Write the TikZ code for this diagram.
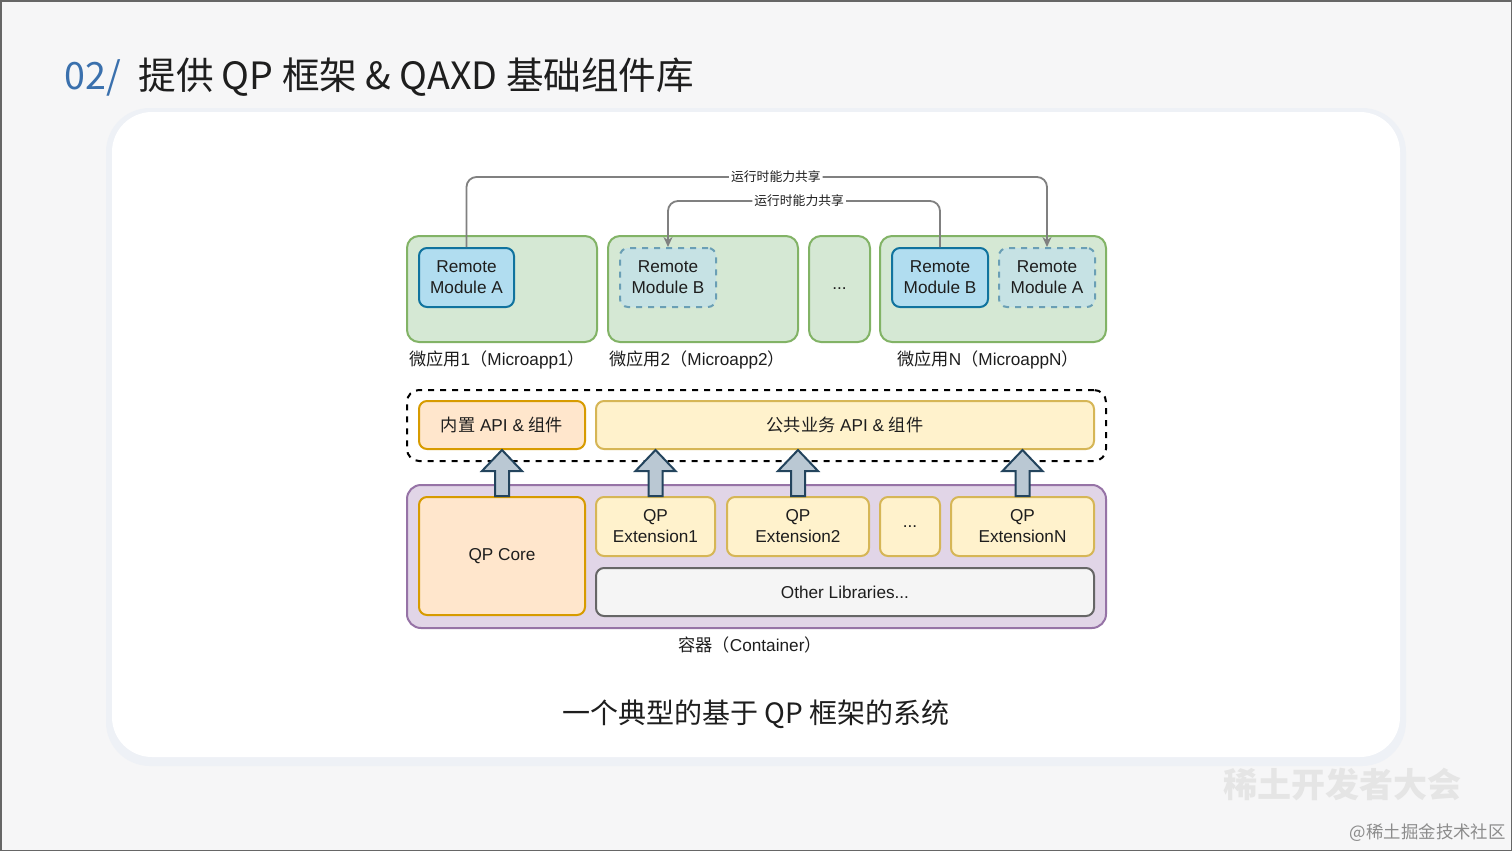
\documentclass[tikz,border=0pt]{standalone}
\usepackage{fontspec}
\setmainfont{Liberation Sans}
\newfontfamily\cjk{Noto Sans CJK SC}
\usetikzlibrary{calc,arrows.meta}
\definecolor{bgc}{HTML}{F6F6F7}
\definecolor{shad}{HTML}{EEF1F6}
\definecolor{gfill}{HTML}{D5E8D4}\definecolor{gline}{HTML}{82B366}
\definecolor{bfill}{HTML}{B1DDF0}\definecolor{bline}{HTML}{10739E}
\definecolor{dbfill}{HTML}{C6E2E4}\definecolor{dbline}{HTML}{6A9FB5}
\definecolor{ofill}{HTML}{FFE6CC}\definecolor{oline}{HTML}{D79B00}
\definecolor{yfill}{HTML}{FFF2CC}\definecolor{yline}{HTML}{D6B656}
\definecolor{pfill}{HTML}{E1D5E7}\definecolor{pline}{HTML}{9673A6}
\definecolor{lfill}{HTML}{F5F5F5}\definecolor{lline}{HTML}{666666}
\definecolor{afill}{HTML}{BAC8D3}\definecolor{aline}{HTML}{23445D}
\definecolor{conc}{HTML}{808080}
\definecolor{titleblue}{HTML}{3A70AD}
\definecolor{txt}{HTML}{1E1E1E}
\tikzset{
  base/.style={rounded corners=4pt, line width=1pt, align=center, text=txt, font=\fontsize{8.6}{10.5}\selectfont, inner sep=0pt},
  app/.style={base, fill=gfill, draw=gline, rounded corners=6pt},
  rmod/.style={base, fill=bfill, draw=bline},
  rmodd/.style={base, fill=dbfill, draw=dbline, dashed},
  obox/.style={base, fill=ofill, draw=oline},
  ybox/.style={base, fill=yfill, draw=yline},
  pbox/.style={base, fill=pfill, draw=pline, rounded corners=7pt},
  lbox/.style={base, fill=lfill, draw=lline},
  dbox/.style={base, draw=black, dashed, rounded corners=6pt},
  conn/.style={draw=conc, line width=0.9pt, rounded corners=5pt},
  clab/.style={fill=white, inner sep=1pt, text=txt, font=\cjk\fontsize{6.4}{7}\selectfont},
  blab/.style={text=txt, font=\fontsize{8.6}{10}\selectfont, inner sep=0pt},
  barrow/.style={fill=afill, draw=aline, line width=1pt, line join=miter},
}
\newcommand\barr[2]{%
  \draw[barrow] ($(#1)+(-7,0)$) -- ($(#2)+(-7,21)$) -- ($(#2)+(-20,21)$) -- (#2)
    -- ($(#2)+(20,21)$) -- ($(#2)+(7,21)$) -- ($(#1)+(7,0)$) -- cycle;}
\begin{document}
\begin{tikzpicture}[x=0.5pt,y=-0.5pt]
\useasboundingbox (0,0) rectangle (1512,851);
% background
\fill[bgc] (0,0) rectangle (1512,851);
\fill[shad, rounded corners=22pt] (106,108) rectangle (1406,766);
\fill[white, rounded corners=20pt] (112,112) rectangle (1400,757);
\draw[black!60, line width=1pt] (0.5,0.5) rectangle (1511.5,850.5);

% title
\node[anchor=base west, inner sep=0pt, text=titleblue, font=\cjk\fontsize{18.8}{20}\selectfont] (num) at (64,90) {02/};
\node[anchor=base west, inner sep=0pt, text=txt, font=\cjk\fontsize{18.8}{20}\selectfont] (title) at (138,90) {提供 QP 框架 \& QAXD 基础组件库};

% microapps
\node[app, minimum width=95pt, minimum height=53pt] (app1) at (502,289) {};
\node[app, minimum width=95pt, minimum height=53pt] (app2) at (703,289) {};
\node[app, minimum width=30.5pt, minimum height=53pt] (app3) at (839.5,289) {...};
\node[app, minimum width=113pt, minimum height=53pt] (appN) at (993,289) {};
\node[rmod, minimum width=47.5pt, minimum height=29.5pt] (rmA1) at (466.5,277.5) {Remote\\Module A};
\node[rmodd, minimum width=48pt, minimum height=29.5pt] (rmB2) at (668,277.5) {Remote\\Module B};
\node[rmod, minimum width=48pt, minimum height=29.5pt] (rmBN) at (940,277.5) {Remote\\Module B};
\node[rmodd, minimum width=48pt, minimum height=29.5pt] (rmAN) at (1047,277.5) {Remote\\Module A};
\node[blab] (l1) at (497,360) {{\cjk 微应用}1{\cjk （}Microapp1{\cjk ）}};
\node[blab] (l2) at (697,360) {{\cjk 微应用}2{\cjk （}Microapp2{\cjk ）}};
\node[blab] (lN) at (988,360) {{\cjk 微应用}N{\cjk （}MicroappN{\cjk ）}};

% sharing connectors
\draw[conn, -{Stealth[length=5pt,width=4.5pt]}] (rmA1.north) -- (rmA1.north |- 0,177)
  -- node[clab, pos=0.533] {运行时能力共享} (rmAN.north |- 0,177) -- (rmAN.north);
\draw[conn, -{Stealth[length=5pt,width=4.5pt]}] (rmBN.north) -- (rmBN.north |- 0,201)
  -- node[clab, pos=0.518] {运行时能力共享} (rmB2.north |- 0,201) -- (rmB2.north);

% API layer
\node[dbox, minimum width=349.5pt, minimum height=35.5pt] (layer) at (756.5,425.5) {};
\node[obox, minimum width=83pt, minimum height=24pt] (api1) at (502,425) {{\cjk 内置} API \& {\cjk 组件}};
\node[ybox, minimum width=249pt, minimum height=24pt] (api2) at (845,425) {{\cjk 公共业务} API \& {\cjk 组件}};

% container
\node[pbox, minimum width=349.5pt, minimum height=71.5pt] (cont) at (756.5,556.5) {};
\node[obox, minimum width=83pt, minimum height=59pt] (core) at (502,556) {QP Core};
\node[ybox, minimum width=59.5pt, minimum height=29.5pt] (ext1) at (655.5,526.5) {QP\\Extension1};
\node[ybox, minimum width=71pt, minimum height=29.5pt] (ext2) at (798,526.5) {QP\\Extension2};
\node[ybox, minimum width=30pt, minimum height=29.5pt] (extd) at (910,526.5) {...};
\node[ybox, minimum width=71.5pt, minimum height=29.5pt] (extN) at (1022.5,526.5) {QP\\ExtensionN};
\node[lbox, minimum width=249pt, minimum height=24pt] (other) at (845,592) {Other Libraries...};
\node[blab] (clabel) at (750,645) {{\cjk 容器（}Container{\cjk ）}};

% block arrows
\barr{core.north}{api1.south}
\barr{ext1.north}{ext1.north |- api2.south}
\barr{ext2.north}{ext2.north |- api2.south}
\barr{extN.north}{extN.north |- api2.south}

% caption
\node[text=txt, inner sep=0pt, font=\cjk\fontsize{14}{16}\selectfont] (cap) at (756,714) {一个典型的基于 QP 框架的系统};

% watermark
\node[text=black!10, inner sep=0pt, font=\cjk\bfseries\fontsize{17}{18}\selectfont] (wm) at (1342,785) {稀土开发者大会};
\node[text=black!45, inner sep=0pt, font=\cjk\fontsize{8.7}{10}\selectfont, anchor=east] (wm2) at (1506,833) {@稀土掘金技术社区};
\end{tikzpicture}
\end{document}
